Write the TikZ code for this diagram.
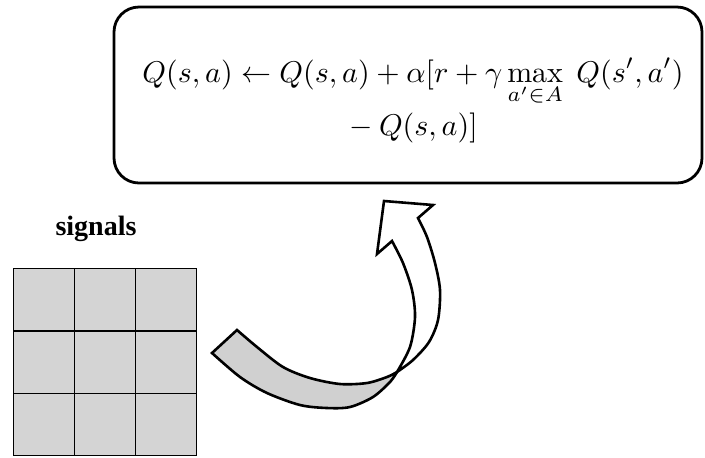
\documentclass[tikz,border=0pt]{standalone}
\usepackage{fontspec}
\newfontfamily\sigfont{Liberation Serif}
\definecolor{cellgray}{HTML}{D4D4D4}
\definecolor{ribbongray}{HTML}{D0D0D0}
\begin{document}
\begin{tikzpicture}[x=0.5pt,y=-0.5pt,
  eqbox/.style={draw=black, line width=1.4pt, rounded corners=12.5pt,
    minimum width=294pt, minimum height=88pt, inner sep=0pt},
  eqline/.style={anchor=base, scale=1.5, inner sep=0pt},
  cell/.style={draw=black, fill=cellgray, line width=0.6pt,
    minimum width=30.5pt, minimum height=31pt, inner sep=0pt, anchor=north west},
  ribbon/.style={draw=black, line width=1.3pt, line join=miter}]
\useasboundingbox (0,0) rectangle (705,457);

% equation box
\node[eqbox] (box) at (408,95) {};
\node[eqline] (eq1) at (413,82)
  {$\displaystyle Q(s,a) \leftarrow Q(s,a) + \alpha[r + \gamma \max_{a'\in A}\; Q(s',a')$};
\node[eqline] (eq2) at (410,135) {$\displaystyle {}-Q(s,a)]$};

% signals label
\node[anchor=base, inner sep=0pt] (sig) at (96,235) {\sigfont\fontsize{14}{16}\selectfont\bfseries signals};

% 3x3 grid
\foreach \r in {0,1,2}{
  \foreach \c in {0,1,2}{
    \node[cell] (c\r\c) at ({13+61*\c},{268+62.5*\r}) {};
  }
}

% twisted block arrow: white front part (rising to the head)
\filldraw[ribbon, fill=white]
  plot[smooth] coordinates {(397,372) (413,360) (429,342) (438,320) (440,290) (435,263) (427,237) (418,218)}
  -- (433,205) -- (384,201) -- (377,254) -- (392,241)
  -- plot[smooth] coordinates {(392,241) (403,263) (412,290) (415,317) (410,347) (397,372)}
  -- cycle;
% grey back part (tail)
\filldraw[ribbon, fill=ribbongray]
  plot[smooth] coordinates {(237,330) (257,347) (283,367) (310,378) (340,384) (367,383) (387,377) (397,372)}
  -- plot[smooth] coordinates {(397,372) (390,382) (373,397) (350,407) (327,408) (300,405) (267,393) (240,377) (212,353)}
  -- cycle;
\end{tikzpicture}
\end{document}
